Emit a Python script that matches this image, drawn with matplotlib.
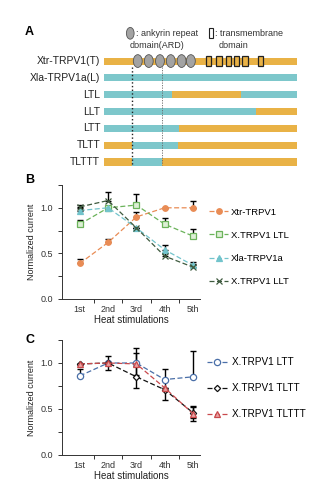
import matplotlib
matplotlib.use("Agg")
import matplotlib.pyplot as plt
from matplotlib.patches import Ellipse, Rectangle
from matplotlib.ticker import FixedLocator

plt.rcParams['font.family'] = ['Liberation Sans', 'DejaVu Sans']

ORANGE = '#E9B246'
TEAL = '#7DC7CB'

# ---- panel A data: constructs as (colour, end position) segments on a 0-100 scale
constructs = ['Xtr-TRPV1(T)', 'Xla-TRPV1a(L)', 'LTL', 'LLT', 'LTT', 'TLTT', 'TLTTT']
segments = [
    [('T', 100)],
    [('L', 100)],
    [('L', 35), ('T', 71), ('L', 100)],
    [('L', 78.5), ('T', 100)],
    [('L', 39), ('T', 100)],
    [('T', 14.5), ('L', 38.5), ('T', 100)],
    [('T', 14.5), ('L', 30), ('T', 100)],
]
ard_pos = [17.5, 23.2, 29, 34.6, 40.2, 45]
tm_pos = [54, 59.6, 64.6, 68.8, 73, 81.2]
cut_lines = [14.5, 30]

# ---- panel B / C data
stims = ['1st', '2nd', '3rd', '4th', '5th']

xtr = [0.39, 0.62, 0.90, 1.00, 1.00]
xtr_err = [0.05, 0.04, 0.05, 0.0, 0.07]
ltl = [0.82, 1.00, 1.03, 0.82, 0.69]
ltl_err = [0.05, 0.0, 0.12, 0.07, 0.08]
xla = [0.97, 1.00, 0.78, 0.54, 0.37]
xla_err = [0.03, 0.0, 0.0, 0.05, 0.04]
llt = [1.01, 1.08, 0.78, 0.47, 0.35]
llt_err = [0.02, 0.09, 0.0, 0.03, 0.03]

ltt = [0.86, 1.00, 1.00, 0.82, 0.85]
ltt_err = [0.07, 0.0, 0.16, 0.12, 0.28]
tltt = [0.99, 1.00, 0.85, 0.71, 0.46]
tltt_err = [0.0, 0.0, 0.12, 0.11, 0.06]
tlttt = [0.99, 1.00, 0.99, 0.73, 0.45]
tlttt_err = [0.0, 0.08, 0.12, 0.0, 0.08]

fig = plt.figure(figsize=(3.25, 5.0), dpi=100)

# ================= Panel A =================
axA = fig.add_axes([104 / 325, 1 - 170.4 / 500, 193 / 325, 151.4 / 500])
axA.set_xlim(0, 100)
axA.set_ylim(6.5, -2.5)
axA.axis('off')
bar_h = 0.42
for i, segs in enumerate(segments):
    start = 0
    for code, end in segs:
        axA.barh(i, end - start, left=start, height=bar_h,
                 color=ORANGE if code == 'T' else TEAL, linewidth=0)
        start = end
    axA.text(-2, i, constructs[i], ha='right', va='center', fontsize=7.5, color='#222222')

for x in ard_pos:
    axA.add_patch(Ellipse((x, 0), 4.6, 0.76, facecolor='#A3A3A3',
                          edgecolor='#555555', linewidth=0.6))
for x in tm_pos:
    axA.add_patch(Rectangle((x - 1.4, -0.28), 2.8, 0.56, facecolor=ORANGE,
                            edgecolor='#222222', linewidth=0.9))
axA.plot([cut_lines[0]] * 2, [0.35, 6.2], ls=':', color='#222222', lw=1.0)
axA.plot([cut_lines[1]] * 2, [0.35, 6.2], ls=(0, (1.5, 1.5)), color='#666666', lw=0.6)

# legend glyphs of panel A
axA.add_patch(Ellipse((13.6, -1.65), 4.0, 0.7, facecolor='#A3A3A3',
                      edgecolor='#555555', linewidth=0.6, clip_on=False))
axA.text(16.5, -1.65, ': ankyrin repeat', ha='left', va='center', fontsize=6.5, color='#333333')
axA.text(27.5, -0.95, 'domain(ARD)', ha='center', va='center', fontsize=6.5, color='#333333')
axA.add_patch(Rectangle((55.4 - 1.1, -1.95), 2.2, 0.55, facecolor='white',
                        edgecolor='#222222', linewidth=0.8, clip_on=False))
axA.text(57.4, -1.65, ': transmembrane', ha='left', va='center', fontsize=6.5, color='#333333')
axA.text(67, -0.95, 'domain', ha='center', va='center', fontsize=6.5, color='#333333')
fig.text(25 / 325, 1 - 32 / 500, 'A', fontsize=9, fontweight='bold', va='center')


def style_axis(ax):
    ax.set_xlim(0.37, 5.25)
    ax.set_ylim(0, 1.25)
    for s in ['top', 'right']:
        ax.spines[s].set_visible(False)
    for s in ['left', 'bottom']:
        ax.spines[s].set_linewidth(0.7)
        ax.spines[s].set_color('#333333')
    ax.set_xticks(range(1, 6))
    ax.set_xticklabels(stims)
    ax.xaxis.set_minor_locator(FixedLocator([1.5, 2.5, 3.5, 4.5]))
    ax.tick_params(axis='x', which='major', length=0, pad=4, labelsize=6.5, labelcolor='#333333')
    ax.tick_params(axis='x', which='minor', length=3, width=0.7, color='#333333')
    ax.set_yticks([0, 0.5, 1.0])
    ax.set_yticklabels(['0.0', '0.5', '1.0'])
    ax.yaxis.set_minor_locator(FixedLocator([0.25, 0.75, 1.25]))
    ax.tick_params(axis='y', which='both', length=3, width=0.7, color='#333333',
                   labelsize=6.5, labelcolor='#333333')
    ax.set_ylabel('Normalized current', fontsize=6.5, color='#222222', labelpad=3)
    ax.set_xlabel('Heat stimulations', fontsize=7, color='#222222', labelpad=1)


def draw(ax, y, err, label, color, marker, mfc, ms, errcolor='black', both=False):
    x = list(range(1, 6))
    yerr = [err, err] if both else [[0] * 5, err]
    ax.errorbar(x, y, yerr=yerr, fmt='none', ecolor=errcolor, elinewidth=1.0,
                capsize=2, capthick=1.0, zorder=2)
    ax.plot(x, y, ls=(0, (4, 2)), lw=0.9, color=color, marker=marker, ms=ms,
            mfc=mfc, mec=color, mew=0.9, label=label, zorder=3)


# ================= Panel B =================
axB = fig.add_axes([62 / 325, 1 - 299 / 500, 138 / 325, 114 / 500])
draw(axB, xtr, xtr_err, 'Xtr-TRPV1', '#E98C55', 'o', '#E98C55', 4)
draw(axB, ltl, ltl_err, 'X.TRPV1 LTL', '#6BB35A', 's', '#DDEFD5', 4)
draw(axB, xla, xla_err, 'Xla-TRPV1a', '#72C4CC', '^', '#72C4CC', 4.5)
draw(axB, llt, llt_err, 'X.TRPV1 LLT', '#3E5A3E', 'x', 'none', 4.5)
style_axis(axB)
axB.legend(loc='upper left', bbox_to_anchor=(1.04, 0.835), frameon=False, fontsize=6.8,
           handlelength=2.0, handletextpad=0.3, labelspacing=1.5, borderaxespad=0)
fig.text(25 / 325, 1 - 180 / 500, 'B', fontsize=9, fontweight='bold', va='center')

# ================= Panel C =================
axC = fig.add_axes([62 / 325, 1 - 455 / 500, 138 / 325, 115 / 500])
draw(axC, ltt, ltt_err, 'X.TRPV1 LTT', '#4A6FA8', 'o', 'white', 4.5)
draw(axC, tltt, tltt_err, 'X.TRPV1 TLTT', '#111111', 'D', 'white', 3.2, both=True)
draw(axC, tlttt, tlttt_err, 'X.TRPV1 TLTTT', '#C9494C', '^', '#E7A3A3', 4.5, both=True)
style_axis(axC)
axC.legend(loc='upper left', bbox_to_anchor=(1.02, 0.885), frameon=False, fontsize=7.2,
           handlelength=2.0, handletextpad=0.5, labelspacing=1.6, borderaxespad=0)
fig.text(25 / 325, 1 - 340 / 500, 'C', fontsize=9, fontweight='bold', va='center')

fig.savefig('out.png', dpi=100)
